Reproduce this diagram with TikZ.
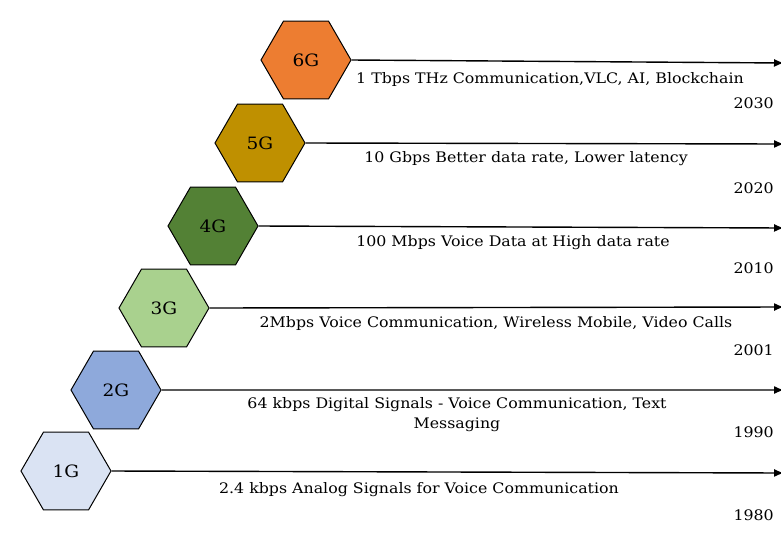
\documentclass[tikz,border=0pt]{standalone}
\usepackage{fontspec}
\setmainfont{DejaVu Serif}[FakeStretch=1.09]
\usetikzlibrary{shapes.geometric,arrows.meta}
\definecolor{c6}{HTML}{ED7D31}
\definecolor{c5}{HTML}{BF9000}
\definecolor{c4}{HTML}{538135}
\definecolor{c3}{HTML}{A9D18E}
\definecolor{c2}{HTML}{8EA9DB}
\definecolor{c1}{HTML}{DAE3F3}
\tikzset{
  hex/.style={regular polygon, regular polygon sides=6, minimum size=90pt, inner sep=0pt,
    draw=black, line width=1pt, font=\fontsize{17}{20}\selectfont},
  tl/.style={-{Latex[length=10pt,width=8pt]}, line width=1.4pt},
  lab/.style={font=\fontsize{14.5}{20}\selectfont, align=center, inner sep=0pt},
  yr/.style={font=\fontsize{14.5}{16}\selectfont, anchor=east, inner sep=0pt}
}
\begin{document}
\begin{tikzpicture}[x=1pt,y=-1pt]
\useasboundingbox (0,0) rectangle (781,547);
\node[hex, fill=c1] (g1) at (66,471) {1G};
\node[hex, fill=c2] (g2) at (116,390) {2G};
\node[hex, fill=c3] (g3) at (164,308) {3G};
\node[hex, fill=c4] (g4) at (213,226) {4G};
\node[hex, fill=c5] (g5) at (260,143) {5G};
\node[hex, fill=c6] (g6) at (306,60) {6G};
\coordinate (e1) at (784,473);
\coordinate (e2) at (784,390);
\coordinate (e3) at (784,307);
\coordinate (e4) at (784,228);
\coordinate (e5) at (784,144);
\coordinate (e6) at (784,63);
\foreach \i in {1,...,6} \draw[tl] (g\i.east) -- (e\i);
\node[lab] (l6) at (550,79) {1 Tbps THz Communication,VLC, AI, Blockchain};
\node[lab] (l5) at (526,159) {10 Gbps Better data rate, Lower latency};
\node[lab] (l4) at (513,243) {100 Mbps Voice Data at High data rate};
\node[lab] (l3) at (496,323) {2Mbps Voice Communication, Wireless Mobile, Video Calls};
\node[lab] (l2) at (457,415) {64 kbps Digital Signals - Voice Communication, Text\\Messaging};
\node[lab] (l1) at (419,490) {2.4 kbps Analog Signals for Voice Communication};
\node[yr] (y6) at (774,103) {2030};
\node[yr] (y5) at (774,188) {2020};
\node[yr] (y4) at (774,268) {2010};
\node[yr] (y3) at (774,350) {2001};
\node[yr] (y2) at (774,432) {1990};
\node[yr] (y1) at (774,515) {1980};
\end{tikzpicture}
\end{document}
